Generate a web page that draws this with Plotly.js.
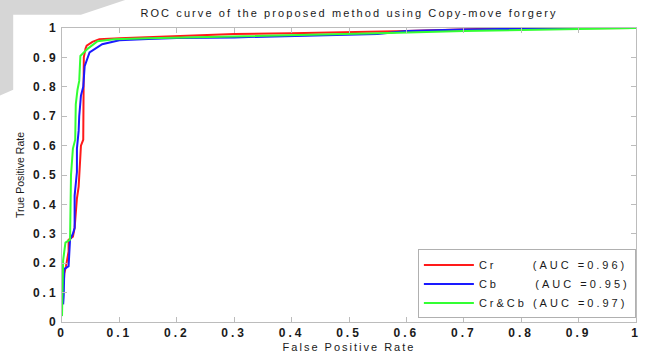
<!DOCTYPE html>
<html>
<head>
<meta charset="utf-8">
<script src="https://cdn.plot.ly/plotly-3.0.1.min.js"></script>
<style>
  html, body { margin: 0; padding: 0; background: #ffffff; }
  #chart { width: 649px; height: 353px; }
  .gtitle { letter-spacing: 2.1px; }
  .xtick text, .ytick text { letter-spacing: 3px; }
  .xtitle { letter-spacing: 2px; }
  .legendtext { letter-spacing: 3px; }
</style>
</head>
<body>
<div id="chart"></div>
<script>
// ----- data -----
const tickVals = [0, 0.1, 0.2, 0.3, 0.4, 0.5, 0.6, 0.7, 0.8, 0.9, 1];
const tickLabels = ["0", "0.1", "0.2", "0.3", "0.4", "0.5", "0.6", "0.7", "0.8", "0.9", "1"];

const seriesNames = ["Cr", "Cb", "Cr&Cb"];
const aucLabels = ["(AUC =0.96)", "(AUC =0.95)", "(AUC =0.97)"];

// Cr
const crFPR = [0.003, 0.004, 0.007, 0.0115, 0.0115, 0.019, 0.022, 0.026, 0.029, 0.031, 0.033, 0.037, 0.038, 0.041, 0.043, 0.053, 0.065, 0.1, 0.2, 0.3, 0.4, 0.5, 0.6, 0.75, 0.9, 1];
const crTPR = [0.13, 0.165, 0.19, 0.24, 0.28, 0.29, 0.32, 0.42, 0.46, 0.55, 0.60, 0.62, 0.90, 0.93, 0.94, 0.953, 0.962, 0.965, 0.972, 0.980, 0.982, 0.985, 0.990, 0.998, 1, 1];

// Cb
const cbFPR = [0.002, 0.003, 0.004, 0.0115, 0.014, 0.019, 0.022, 0.022, 0.026, 0.026, 0.029, 0.030, 0.033, 0.037, 0.0395, 0.048, 0.07, 0.1, 0.15, 0.2, 0.3, 0.4, 0.45, 0.5, 0.55, 0.6, 0.7, 0.9, 1];
const cbTPR = [0.06, 0.09, 0.18, 0.19, 0.28, 0.30, 0.32, 0.43, 0.51, 0.59, 0.65, 0.70, 0.77, 0.80, 0.87, 0.917, 0.945, 0.958, 0.963, 0.966, 0.968, 0.972, 0.975, 0.978, 0.980, 0.990, 0.995, 1, 1];

// Cr&Cb
const crcbFPR = [0, 0.002, 0.006, 0.014, 0.0157, 0.019, 0.023, 0.024, 0.027, 0.030, 0.032, 0.045, 0.062, 0.091, 0.15, 0.2, 0.3, 0.4, 0.5, 0.57, 0.7, 0.8, 0.9, 1];
const crcbTPR = [0.02, 0.21, 0.27, 0.28, 0.50, 0.59, 0.62, 0.74, 0.79, 0.82, 0.905, 0.93, 0.955, 0.962, 0.965, 0.967, 0.970, 0.975, 0.980, 0.983, 0.990, 0.993, 0.998, 1];

const seriesColors = ["#ff1a1a", "#1a1aff", "#33ff33"];

// ----- build chart -----
const NB = "\u00a0";
function legendName(i, pad) { return seriesNames[i] + NB.repeat(pad) + aucLabels[i]; }

const xs = [crFPR, cbFPR, crcbFPR];
const ys = [crTPR, cbTPR, crcbTPR];
const pads = [6, 6, 1];

const traces = xs.map((x, i) => ({
  x: x, y: ys[i], type: "scatter", mode: "lines",
  name: legendName(i, pads[i]),
  line: { color: seriesColors[i], width: 2 },
  hoverinfo: "skip"
}));

const FONT = "Liberation Sans, Arial, sans-serif";
const axisGray = "#bcbcbc";

const baseAxis = {
  range: [0, 1], tickmode: "array", tickvals: tickVals, ticktext: tickLabels,
  showline: true, linecolor: axisGray, linewidth: 1, mirror: "ticks",
  ticks: "inside", ticklen: 5, tickwidth: 1, tickcolor: axisGray,
  showgrid: false, zeroline: false, fixedrange: true,
  tickfont: { family: FONT, size: 12, color: "#1a1a1a", weight: "bold" }
};

const layout = {
  width: 649, height: 353,
  margin: { l: 62, r: 13, t: 28, b: 31, pad: 0 },
  paper_bgcolor: "#ffffff", plot_bgcolor: "#ffffff",
  showlegend: true,
  title: { text: "ROC curve of the proposed method using Copy-move forgery",
           x: 0.5, xref: "paper", xanchor: "center", y: 0.962, yref: "container", yanchor: "middle",
           font: { family: FONT, size: 11, color: "#1a1a1a" } },
  xaxis: Object.assign({}, baseAxis, {
    ticklabelshift: 1.5,
    title: { text: "False Positive Rate", standoff: 3, font: { family: FONT, size: 11, color: "#1a1a1a" } }
  }),
  yaxis: Object.assign({}, baseAxis, {
    title: { text: "True Positive Rate", standoff: 6, font: { family: FONT, size: 10.5, color: "#1a1a1a" } }
  }),
  legend: {
    x: 0.62, xanchor: "left", y: 0.012, yanchor: "bottom",
    bgcolor: "#ffffff", bordercolor: "#b0b0b0", borderwidth: 1,
    font: { family: FONT, size: 11, color: "#1a1a1a" },
    tracegroupgap: 0, itemwidth: 50
  },
  shapes: [
    { type: "path", xref: "paper", yref: "paper", layer: "below",
      path: "M -0.108 1.095 L 0.110 1.095 L 0.033 1.045 L -0.085 1.045 L -0.085 0.79 L -0.108 0.77 Z",
      fillcolor: "#d6d6d6", line: { width: 0 } }
  ]
};

Plotly.newPlot("chart", traces, layout, { staticPlot: true, displayModeBar: false });
</script>
</body>
</html>
